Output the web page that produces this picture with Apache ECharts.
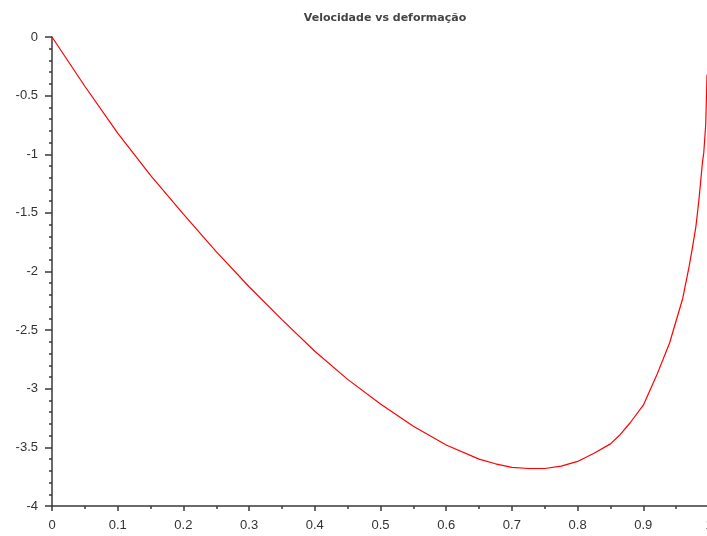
<!DOCTYPE html>
<html>
<head>
<meta charset="utf-8">
<script src="https://cdn.jsdelivr.net/npm/echarts@6/dist/echarts.min.js"></script>
<style>
  html, body { margin: 0; padding: 0; background: #ffffff; }
  #chart { width: 707px; height: 536px; }
</style>
</head>
<body>
<div id="chart"></div>
<script>
// Deformation (x) and velocity (y) samples
const deformacao = [0, 0.05, 0.1, 0.15, 0.2, 0.25, 0.3, 0.35, 0.4, 0.45, 0.5, 0.55, 0.6, 0.65, 0.675, 0.7, 0.725, 0.75, 0.775, 0.8, 0.825, 0.85, 0.865, 0.88, 0.9, 0.92, 0.94, 0.95, 0.96, 0.97, 0.975, 0.98, 0.985, 0.99, 0.992, 0.995, 0.997];
const velocidade = [0, -0.42, -0.82, -1.18, -1.51, -1.83, -2.13, -2.41, -2.68, -2.92, -3.13, -3.32, -3.48, -3.60, -3.64, -3.67, -3.68, -3.68, -3.66, -3.62, -3.55, -3.47, -3.39, -3.29, -3.14, -2.89, -2.61, -2.42, -2.23, -1.95, -1.79, -1.62, -1.37, -1.07, -0.99, -0.75, -0.32];

const titulo = 'Velocidade vs deformação';
const xLimites = [0, 1];
const yLimites = [-4, 0];

const pontos = deformacao.map((x, i) => [x, velocidade[i]]);

const corEixo = '#3a3a3a';
const fonteEixo = { fontFamily: 'Liberation Sans, Arial, sans-serif', fontSize: 13, color: '#333333' };

const chart = echarts.init(document.getElementById('chart'), null, { renderer: 'canvas' });
chart.setOption({
  animation: false,
  backgroundColor: '#ffffff',
  title: {
    text: titulo,
    left: 380,
    textAlign: 'center',
    top: 8,
    textStyle: { fontFamily: 'DejaVu Sans, sans-serif', fontSize: 11, fontWeight: 'bold', color: '#444444' }
  },
  grid: { left: 52, right: -2, top: 37, bottom: 30, containLabel: false, outerBoundsMode: 'none' },
  xAxis: {
    type: 'value',
    min: xLimites[0], max: xLimites[1], interval: 0.1,
    splitLine: { show: false },
    axisLine: { show: true, onZero: false, lineStyle: { color: corEixo, width: 1.5 } },
    axisTick: { show: true, length: 5, lineStyle: { color: corEixo, width: 1.5 } },
    minorTick: { show: true, splitNumber: 2, length: 3, lineStyle: { color: corEixo, width: 1.5 } },
    minorSplitLine: { show: false },
    axisLabel: Object.assign({ margin: 13, showMaxLabel: true, hideOverlap: false }, fonteEixo)
  },
  yAxis: {
    type: 'value',
    min: yLimites[0], max: yLimites[1], interval: 0.5,
    splitLine: { show: false },
    axisLine: { show: true, onZero: false, lineStyle: { color: corEixo, width: 1.5 } },
    axisTick: { show: true, length: 7, lineStyle: { color: corEixo, width: 1.5 } },
    minorTick: { show: true, splitNumber: 5, length: 3, lineStyle: { color: corEixo, width: 1.5 } },
    minorSplitLine: { show: false },
    axisLabel: Object.assign({ margin: 14 }, fonteEixo)
  },
  series: [{
    type: 'line',
    data: pontos,
    showSymbol: false,
    smooth: false,
    clip: false,
    lineStyle: { color: '#ff0000', width: 1.2 }
  }]
});
</script>
</body>
</html>
